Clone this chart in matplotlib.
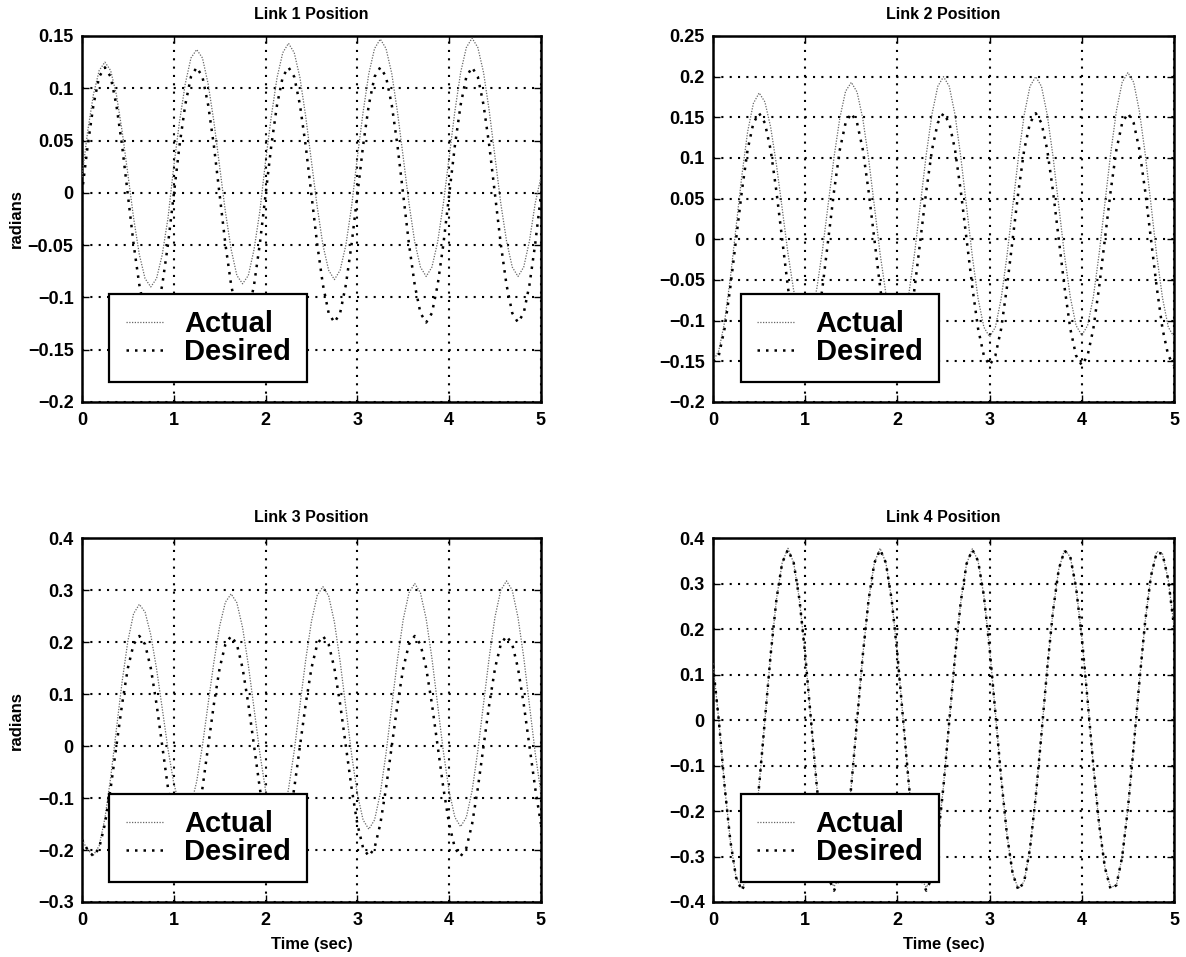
import numpy as np
import matplotlib
matplotlib.use('Agg')
import matplotlib.pyplot as plt
from matplotlib.ticker import FuncFormatter

plt.rcParams['font.family'] = ['Liberation Sans', 'DejaVu Sans']
plt.rcParams['font.weight'] = 'bold'

# time grid of the logged run, 16 samples per second
time_s = np.linspace(0, 5, 81)

link1_actual = [
    0.015, 0.059, 0.094, 0.117, 0.125, 0.117, 0.094, 0.059, 0.018, -0.024, -0.059, -0.082, -0.090, -0.082, -0.059, -0.024,
    0.025, 0.068, 0.104, 0.129, 0.137, 0.129, 0.104, 0.068, 0.025, -0.018, -0.054, -0.079, -0.087, -0.079, -0.054, -0.018,
    0.030, 0.073, 0.110, 0.134, 0.143, 0.134, 0.110, 0.073, 0.030, -0.013, -0.050, -0.074, -0.083, -0.074, -0.050, -0.013,
    0.034, 0.077, 0.114, 0.138, 0.147, 0.138, 0.114, 0.077, 0.034, -0.010, -0.047, -0.071, -0.080, -0.071, -0.047, -0.010,
    0.034, 0.078, 0.115, 0.139, 0.148, 0.139, 0.115, 0.078, 0.034, -0.010, -0.046, -0.071, -0.080, -0.071, -0.046, -0.010,
    0.015]
link1_desired = [
    0.000, 0.045, 0.084, 0.111, 0.120, 0.111, 0.084, 0.045, -0.002, -0.049, -0.088, -0.115, -0.124, -0.115, -0.088, -0.049,
    -0.002, 0.045, 0.084, 0.111, 0.120, 0.111, 0.084, 0.045, -0.002, -0.049, -0.088, -0.115, -0.124, -0.115, -0.088, -0.049,
    -0.002, 0.045, 0.084, 0.111, 0.120, 0.111, 0.084, 0.045, -0.002, -0.049, -0.088, -0.115, -0.124, -0.115, -0.088, -0.049,
    -0.002, 0.045, 0.084, 0.111, 0.120, 0.111, 0.084, 0.045, -0.002, -0.049, -0.088, -0.115, -0.124, -0.115, -0.088, -0.049,
    -0.002, 0.045, 0.084, 0.111, 0.120, 0.111, 0.084, 0.045, -0.002, -0.049, -0.088, -0.115, -0.124, -0.115, -0.088, -0.049,
    -0.002]

link2_actual = [
    -0.150, -0.137, -0.102, -0.048, 0.015, 0.078, 0.132, 0.167, 0.180, 0.169, 0.138, 0.092, 0.038, -0.017, -0.063, -0.094,
    -0.105, -0.094, -0.061, -0.013, 0.044, 0.101, 0.149, 0.182, 0.193, 0.181, 0.148, 0.099, 0.041, -0.018, -0.067, -0.100,
    -0.112, -0.100, -0.066, -0.016, 0.044, 0.104, 0.154, 0.188, 0.200, 0.188, 0.153, 0.101, 0.040, -0.021, -0.073, -0.108,
    -0.120, -0.108, -0.073, -0.021, 0.040, 0.101, 0.153, 0.188, 0.200, 0.188, 0.153, 0.102, 0.041, -0.020, -0.071, -0.106,
    -0.118, -0.106, -0.071, -0.018, 0.044, 0.105, 0.158, 0.193, 0.205, 0.193, 0.157, 0.105, 0.043, -0.020, -0.072, -0.108,
    -0.120]
link2_desired = [
    -0.150, -0.143, -0.110, -0.059, 0.000, 0.059, 0.110, 0.143, 0.155, 0.143, 0.110, 0.059, 0.000, -0.059, -0.110, -0.143,
    -0.155, -0.143, -0.110, -0.059, 0.000, 0.059, 0.110, 0.143, 0.155, 0.143, 0.110, 0.059, 0.000, -0.059, -0.110, -0.143,
    -0.155, -0.143, -0.110, -0.059, 0.000, 0.059, 0.110, 0.143, 0.155, 0.143, 0.110, 0.059, 0.000, -0.059, -0.110, -0.143,
    -0.155, -0.143, -0.110, -0.059, 0.000, 0.059, 0.110, 0.143, 0.155, 0.143, 0.110, 0.059, 0.000, -0.059, -0.110, -0.143,
    -0.155, -0.143, -0.110, -0.059, 0.000, 0.059, 0.110, 0.143, 0.155, 0.143, 0.110, 0.059, 0.000, -0.059, -0.110, -0.143,
    -0.155]

link3_actual = [
    -0.180, -0.200, -0.210, -0.192, -0.139, -0.061, 0.032, 0.124, 0.202, 0.255, 0.273, 0.258, 0.214, 0.149, 0.072, -0.006,
    -0.071, -0.115, -0.130, -0.114, -0.068, 0.001, 0.082, 0.162, 0.231, 0.277, 0.293, 0.276, 0.228, 0.156, 0.072, -0.013,
    -0.085, -0.133, -0.150, -0.133, -0.083, -0.009, 0.079, 0.166, 0.240, 0.290, 0.307, 0.289, 0.239, 0.163, 0.074, -0.016,
    -0.092, -0.142, -0.160, -0.142, -0.091, -0.014, 0.077, 0.167, 0.244, 0.295, 0.313, 0.295, 0.245, 0.169, 0.079, -0.011,
    -0.087, -0.137, -0.155, -0.137, -0.086, -0.009, 0.082, 0.172, 0.249, 0.300, 0.318, 0.300, 0.248, 0.171, 0.079, -0.013,
    -0.090]
link3_desired = [
    -0.180, -0.200, -0.212, -0.196, -0.150, -0.081, 0.000, 0.081, 0.150, 0.196, 0.212, 0.196, 0.150, 0.081, 0.000, -0.081,
    -0.150, -0.196, -0.212, -0.196, -0.150, -0.081, 0.000, 0.081, 0.150, 0.196, 0.212, 0.196, 0.150, 0.081, 0.000, -0.081,
    -0.150, -0.196, -0.212, -0.196, -0.150, -0.081, 0.000, 0.081, 0.150, 0.196, 0.212, 0.196, 0.150, 0.081, 0.000, -0.081,
    -0.150, -0.196, -0.212, -0.196, -0.150, -0.081, 0.000, 0.081, 0.150, 0.196, 0.212, 0.196, 0.150, 0.081, 0.000, -0.081,
    -0.150, -0.196, -0.212, -0.196, -0.150, -0.081, 0.000, 0.081, 0.150, 0.196, 0.212, 0.196, 0.150, 0.081, 0.000, -0.081,
    -0.150]

link4_actual = [
    0.125, 0.000, -0.144, -0.265, -0.346, -0.370, -0.346, -0.265, -0.144, 0.000, 0.144, 0.265, 0.346, 0.378, 0.346, 0.265,
    0.144, 0.000, -0.144, -0.265, -0.346, -0.366, -0.346, -0.265, -0.144, 0.000, 0.144, 0.265, 0.346, 0.378, 0.346, 0.265,
    0.144, 0.000, -0.144, -0.265, -0.346, -0.368, -0.346, -0.265, -0.144, -0.002, 0.140, 0.261, 0.344, 0.377, 0.350, 0.274,
    0.157, 0.016, -0.127, -0.251, -0.338, -0.371, -0.355, -0.283, -0.169, -0.030, 0.114, 0.240, 0.332, 0.375, 0.359, 0.292,
    0.182, 0.044, -0.100, -0.229, -0.324, -0.368, -0.363, -0.301, -0.194, -0.058, 0.086, 0.218, 0.317, 0.371, 0.366, 0.309,
    0.206]
link4_desired = [
    0.120, 0.000, -0.144, -0.265, -0.346, -0.375, -0.346, -0.265, -0.144, 0.000, 0.144, 0.265, 0.346, 0.375, 0.346, 0.265,
    0.144, 0.000, -0.144, -0.265, -0.346, -0.375, -0.346, -0.265, -0.144, 0.000, 0.144, 0.265, 0.346, 0.375, 0.346, 0.265,
    0.144, 0.000, -0.144, -0.265, -0.346, -0.375, -0.346, -0.265, -0.144, -0.002, 0.140, 0.261, 0.344, 0.375, 0.350, 0.274,
    0.157, 0.016, -0.127, -0.251, -0.338, -0.374, -0.355, -0.283, -0.169, -0.030, 0.114, 0.240, 0.332, 0.373, 0.359, 0.292,
    0.182, 0.044, -0.100, -0.229, -0.324, -0.372, -0.363, -0.301, -0.194, -0.058, 0.086, 0.218, 0.317, 0.369, 0.366, 0.309,
    0.206]

titles = ['Link 1 Position', 'Link 2 Position', 'Link 3 Position', 'Link 4 Position']
ylims = [(-0.2, 0.15), (-0.2, 0.25), (-0.3, 0.4), (-0.4, 0.4)]
ysteps = [0.05, 0.05, 0.1, 0.1]
xticks = [0, 1, 2, 3, 4, 5]


def tickFmt(v, pos):
    if abs(v) < 1e-9:
        return '0'
    s = '%g' % round(v, 3)
    return s.replace('-', '\u2212')


def linkPlot(ax, actual, desired, **kwargs):
    '''
    one MATLAB style panel: dotted grid, boxed legend bottom left
    '''
    title = kwargs.pop('title')
    ylim = kwargs.pop('ylim')
    ystep = kwargs.pop('ystep')
    ax.plot(time_s, actual, color='0.4', lw=0.9, ls=(0, (1, 1.2)), label='Actual', zorder=3)
    ax.plot(time_s, desired, color='k', lw=1.8, ls=(0, (1, 2.4)), label='Desired', zorder=3)
    ax.set_xlim(0, 5)
    ax.set_ylim(*ylim)
    ax.set_xticks(xticks)
    ax.set_yticks(np.arange(ylim[0], ylim[1] + ystep / 2, ystep))
    ax.yaxis.set_major_formatter(FuncFormatter(tickFmt))
    ax.grid(True, color='k', lw=1.5, ls=(0, (1, 3)))
    ax.tick_params(direction='in', length=5, width=1, top=True, right=True, labelsize=13)
    ax.tick_params(axis='x', pad=7)
    ax.tick_params(axis='y', pad=6)
    for lab in ax.get_xticklabels() + ax.get_yticklabels():
        lab.set_fontweight('bold')
    for sp in ax.spines.values():
        sp.set_linewidth(1.8)
    ax.set_title(title, fontsize=11.5, fontweight='bold', pad=12)
    leg = ax.legend(loc='lower left', bbox_to_anchor=(0.06, 0.055), borderaxespad=0,
                    prop={'size': 21, 'weight': 'bold'}, frameon=True, fancybox=False,
                    edgecolor='k', framealpha=1, borderpad=0.55, handlelength=1.3,
                    handletextpad=0.72, labelspacing=0.0)
    leg.get_frame().set_linewidth(1.6)
    leg.set_zorder(5)


fig = plt.figure(figsize=(11.86, 9.57), dpi=100)
lefts = [0.0691, 0.6012, 0.0691, 0.6012]
widths = [0.387, 0.3887, 0.387, 0.3887]
bottoms = [0.580, 0.580, 0.0575, 0.0575]
heights = [0.3824, 0.3824, 0.380, 0.380]
series = [(link1_actual, link1_desired), (link2_actual, link2_desired),
          (link3_actual, link3_desired), (link4_actual, link4_desired)]

for i in range(4):
    ax = fig.add_axes([lefts[i], bottoms[i], widths[i], heights[i]])
    linkPlot(ax, series[i][0], series[i][1], title=titles[i], ylim=ylims[i], ystep=ysteps[i])
    if i in (0, 2):
        ax.set_ylabel('radians', fontsize=12, fontweight='bold')
        ax.yaxis.set_label_coords(-0.126, 0.5)
    if i in (2, 3):
        ax.set_xlabel('Time (sec)', fontsize=12, fontweight='bold')
        ax.xaxis.set_label_coords(0.5, -0.096)

fig.savefig('out.png', dpi=100)
